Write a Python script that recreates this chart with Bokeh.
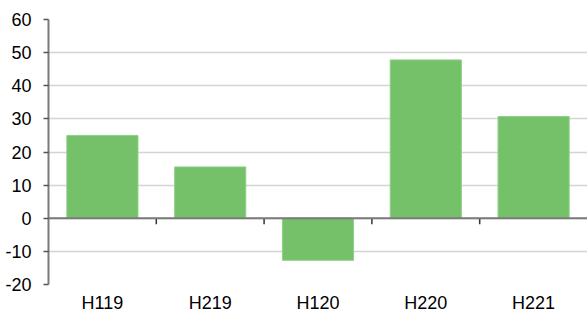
from bokeh.plotting import figure
from bokeh.models import Range1d, FixedTicker, Span, ColumnDataSource
from bokeh.embed import file_html
from bokeh.resources import INLINE

categories = ["H119", "H219", "H120", "H220", "H221"]
values = [25.0, 15.5, -12.7, 47.8, 30.7]
y_ticks = [-20, -10, 0, 10, 20, 30, 40, 50, 60]

xs = [i + 0.5 for i in range(len(categories))]
bounds = list(range(1, len(categories)))

FONT = "Liberation Sans"

p = figure(width=587, height=315, output_backend="svg", toolbar_location=None,
           x_range=Range1d(0, len(categories)), y_range=Range1d(-20, 60),
           min_border_left=48, min_border_right=0, min_border_top=19, min_border_bottom=29)
p.outline_line_color = None
p.background_fill_color = "white"
p.border_fill_color = "white"

p.xgrid.grid_line_color = None
p.ygrid.grid_line_color = "#d4d4d4"
p.ygrid.grid_line_width = 1.5
p.ygrid.ticker = FixedTicker(ticks=y_ticks)

src = ColumnDataSource(dict(x=xs, top=values))
p.vbar(x="x", top="top", bottom=0, width=0.66, source=src,
       fill_color="#74C16A", line_color="#8fd087", line_width=1)

zero = Span(location=0, dimension="width", line_color="#7a7a7a", line_width=2)
p.add_layout(zero)
p.segment(x0=bounds, x1=bounds, y0=[0] * len(bounds), y1=[-1.8] * len(bounds),
          line_color="#333333", line_width=1.5)

yax = p.yaxis[0]
yax.ticker = FixedTicker(ticks=y_ticks)
yax.major_label_overrides = {t: str(t) for t in y_ticks}
yax.axis_line_color = "#7a7a7a"
yax.axis_line_width = 2
yax.major_tick_line_color = "#555555"
yax.major_tick_line_width = 1.5
yax.major_tick_out = 5
yax.major_tick_in = 0
yax.minor_tick_line_color = None
yax.major_label_standoff = 12
yax.major_label_text_font = FONT
yax.major_label_text_font_size = "18px"
yax.major_label_text_color = "#000000"

xax = p.xaxis[0]
xax.ticker = FixedTicker(ticks=xs)
xax.major_label_overrides = {x: c for x, c in zip(xs, categories)}
xax.axis_line_color = None
xax.major_tick_line_color = None
xax.minor_tick_line_color = None
xax.major_tick_out = 0
xax.major_tick_in = 0
xax.major_label_standoff = 8
xax.major_label_text_font = FONT
xax.major_label_text_font_size = "18px"
xax.major_label_text_color = "#000000"

open("out.html", "w").write(file_html(p, INLINE))
